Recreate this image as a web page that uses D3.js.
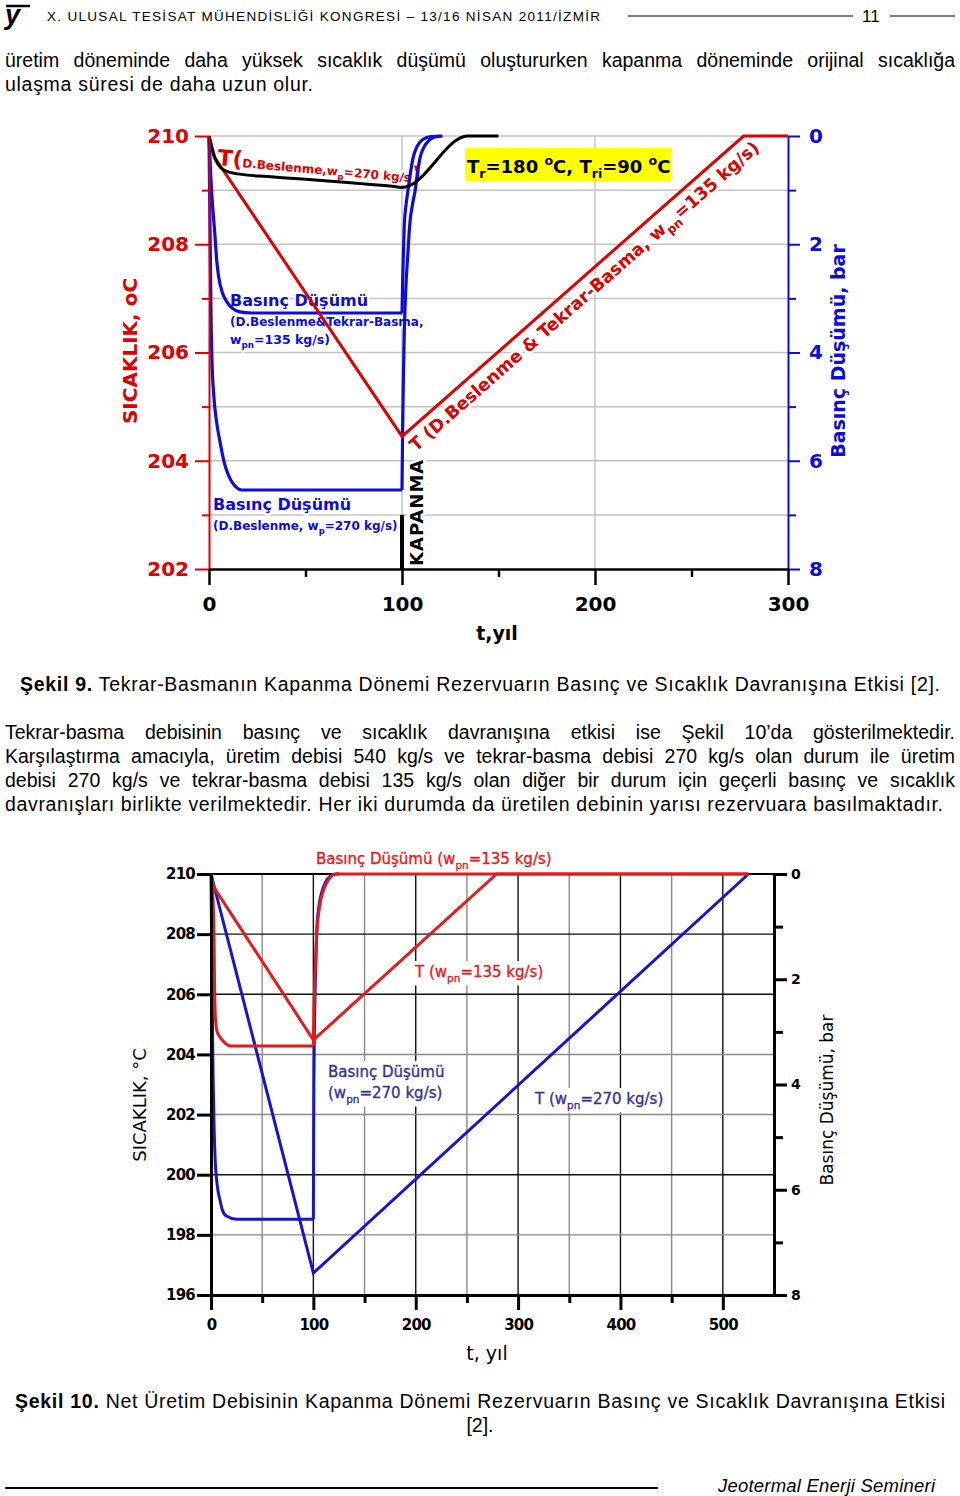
<!DOCTYPE html>
<html><head><meta charset="utf-8">
<script src="https://cdn.jsdelivr.net/npm/d3@7"></script>
<style>body{margin:0;background:#fff}svg{display:block}</style>
</head><body>
<svg id="c" width="960" height="1496"></svg>
<script>
// ---------------- DATA ----------------
// Figure 9 (Şekil 9)
const f9XTicks = [0, 100, 200, 300];
const f9XMinor = [50, 150, 250];
const f9TempTicks = [202, 204, 206, 208, 210];
const f9TempMinor = [203, 205, 207, 209];
const f9PresTicks = [0, 2, 4, 6, 8];
const f9PresMinor = [1, 3, 5, 7];
// T (D.Beslenme, wp=270 kg/s)  [year, °C]
const f9TempProd = [[0,210],[1,209.85],[2,209.7],[4,209.52],[6,209.42],[9,209.35],[15,209.3],[30,209.25],[50,209.2],[75,209.13],[95,209.07],[100,209.05],[102,209.06],[134,210],[150,210]];
// T (D.Beslenme & Tekrar-Basma, wpn=135 kg/s)
const f9TempInj = [[0,210],[3,209.6],[100,204.45],[277,210],[300,210]];
// Basınç Düşümü (wpn=135) production + recovery [year, bar]
const f9PresInj = [[0,0],[0.5,0.4],[1,0.8],[2,1.35],[3,1.8],[4,2.3],[5,2.6],[7,2.9],[9,3.05],[12,3.18],[16,3.25],[22,3.27],[100,3.27]];
const f9PresInjRec = [[100,3.27],[100.4,2.6],[100.8,2.1],[101.2,1.64],[102,1.3],[103,1.03],[104.3,0.7],[105.7,0.41],[108,0.18],[111,0.06],[115,0.01],[120,0]];
// Basınç Düşümü (wp=270)
const f9PresProd = [[0,0],[0.3,1],[0.7,2.2],[1,3.2],[1.5,4.1],[2.5,4.8],[4,5.3],[5.7,5.65],[8,6.05],[10,6.26],[13,6.45],[17,6.54],[100,6.54]];
const f9PresProdRec = [[100,6.54],[100.3,5.5],[100.7,4.5],[101.2,3.6],[102,2.8],[103,2.2],[104,1.64],[105.5,1.25],[106.7,1.03],[108,0.7],[109.3,0.41],[111.5,0.2],[114,0.08],[117,0.02],[121,0]];

// Figure 10 (Şekil 10)
const f10XTicks = [0, 100, 200, 300, 400, 500];
const f10XMinor = [50, 150, 250, 350, 450];
const f10TempTicks = [196, 198, 200, 202, 204, 206, 208, 210];
const f10PresTicks = [0, 2, 4, 6, 8];
const f10PresMinor = [1, 3, 5, 7];
const f10GridX = [50,100,150,200,250,300,350,400,450,500];
const f10GridT = [198,200,202,204,206,208];
// T (wpn=135)
const f10TempInj = [[0,210],[3,209.55],[100,204.48],[279,210],[525,210]];
// T (wpn=270)
const f10TempProd = [[0,210],[100,196.73],[525,210]];
// Basınç Düşümü (wpn=135)
const f10PresInj = [[0,0],[2,0.5],[3,1.25],[3.5,2.2],[4.5,2.8],[6,3.0],[8.8,3.1],[13,3.2],[19,3.27],[100,3.27]];
const f10PresInjRec = [[100,3.27],[100.5,2.6],[101.5,2.0],[103,1.25],[106,0.63],[110,0.3],[113,0.17],[117,0.05],[121,0],[525,0]];
// Basınç Düşümü (wpn=270)
const f10PresProd = [[0,0],[1,2],[2,3.8],[3,4.8],[4,5.4],[6,5.9],[8.8,6.2],[11,6.38],[15,6.5],[25,6.56],[100,6.56]];
const f10PresProdRec = [[100,6.56],[100.2,5.5],[100.5,4.0],[101,3.0],[102,2.0],[103.5,1.0],[105.5,0.6],[108,0.36],[112,0.15],[116,0.05],[123,0],[125,0]];

// ---------------- SETUP ----------------
const svg = d3.select('#c');
svg.append('rect').attr('width',960).attr('height',1496).attr('fill','#fff');
const BODY = '"Liberation Sans", Arial, sans-serif';
const CH = '"DejaVu Sans", sans-serif';
const BFS = 19.5;

function rich(text, parts, fs) {
  let shift = 0;
  parts.forEach(p => {
    const base = p.fs || fs;
    let target = 0, size = base;
    if (p.sub) { target = base * 0.3; size = base * 0.7; }
    if (p.sup) { target = -base * 0.42; size = base * 0.7; }
    text.append('tspan').text(p.t).attr('font-size', size).attr('dy', target - shift);
    shift = target;
  });
  return text;
}
function halo(t) { return t.attr('stroke','#fff').attr('stroke-width',5).attr('paint-order','stroke').attr('stroke-linejoin','round'); }
function axisStyle(g, color, sw, fs, fw, ff) {
  g.attr('font-family', ff).attr('font-size', fs);
  g.select('.domain').attr('stroke', color).attr('stroke-width', sw);
  g.selectAll('.tick line').attr('stroke', color).attr('stroke-width', sw);
  g.selectAll('.tick text').attr('fill', color).attr('font-size', fs).attr('font-weight', fw).attr('font-family', ff);
}
function justify(str, x0, x1, y) {
  const words = str.split(' ');
  const t = svg.append('text').attr('y', y).attr('font-family', BODY).attr('font-size', BFS).attr('fill','#000');
  const spans = words.map(w => t.append('tspan').text(w));
  const widths = spans.map(s => s.node().getComputedTextLength());
  const gap = (x1 - x0 - d3.sum(widths)) / (words.length - 1);
  let x = x0;
  spans.forEach((s, i) => { s.attr('x', x); x += widths[i] + gap; });
}
function fitLine(str, x0, w, y, opts) {
  const t = svg.append('text').attr('x', x0).attr('y', y).attr('font-family', BODY)
    .attr('font-size', (opts && opts.fs) || BFS).attr('fill','#000');
  if (opts && opts.bold) {
    t.append('tspan').attr('font-weight','bold').text(opts.bold);
    t.append('tspan').text(str);
  } else t.text(str);
  if (opts && opts.italic) t.attr('font-style','italic');
  if (w) t.attr('textLength', w).attr('lengthAdjust','spacing');
  return t;
}

// ---------------- PAGE TEXT ----------------
svg.append('line').attr('x1',6).attr('x2',30).attr('y1',6).attr('y2',6).attr('stroke','#000').attr('stroke-width',2.5);
svg.append('text').attr('x',5).attr('y',24).attr('font-family',BODY).attr('font-size',27).attr('font-weight','bold').attr('font-style','italic').text('y');
fitLine('X. ULUSAL TESİSAT MÜHENDİSLİĞİ KONGRESİ – 13/16 NİSAN 2011/İZMİR', 47, 553, 21, {fs:13.5});
svg.append('line').attr('x1',628).attr('x2',853).attr('y1',16).attr('y2',16).attr('stroke','#000').attr('stroke-width',1.2);
svg.append('text').attr('x',862).attr('y',22).attr('font-family',BODY).attr('font-size',17).text('11');
svg.append('line').attr('x1',890).attr('x2',955).attr('y1',16).attr('y2',16).attr('stroke','#000').attr('stroke-width',1.2);

justify('üretim döneminde daha yüksek sıcaklık düşümü oluştururken kapanma döneminde orijinal sıcaklığa', 5, 955, 67);
fitLine('ulaşma süresi de daha uzun olur.', 5, 308, 91);

fitLine(' Tekrar-Basmanın Kapanma Dönemi Rezervuarın Basınç ve Sıcaklık Davranışına Etkisi [2].', 20, 920, 691, {bold:'Şekil 9.'});

justify('Tekrar-basma debisinin basınç ve sıcaklık davranışına etkisi ise Şekil 10’da gösterilmektedir.', 5, 955, 739);
justify('Karşılaştırma amacıyla, üretim debisi 540 kg/s ve tekrar-basma debisi 270 kg/s olan durum ile üretim', 5, 955, 763);
justify('debisi 270 kg/s ve tekrar-basma debisi 135 kg/s olan diğer bir durum için geçerli basınç ve sıcaklık', 5, 955, 787);
fitLine('davranışları birlikte verilmektedir. Her iki durumda da üretilen debinin yarısı rezervuara basılmaktadır.', 5, 938, 811);

fitLine(' Net Üretim Debisinin Kapanma Dönemi Rezervuarın Basınç ve Sıcaklık Davranışına Etkisi', 15, 930, 1408, {bold:'Şekil 10.'});
svg.append('text').attr('x',480).attr('y',1432).attr('text-anchor','middle').attr('font-family',BODY).attr('font-size',BFS).text('[2].');

svg.append('line').attr('x1',5).attr('x2',658).attr('y1',1488).attr('y2',1488).attr('stroke','#000').attr('stroke-width',2);
fitLine('Jeotermal Enerji Semineri', 718, 217, 1492, {italic:true, fs:18.5});

// ---------------- FIGURE 9 ----------------
const R9 = '#e00000', B9 = '#0c0cdc';
const x1 = d3.scaleLinear([0,300],[209,788]);
const yT1 = d3.scaleLinear([202,210],[569,136]);
const yP1 = d3.scaleLinear([0,8],[136,569]);
const g1 = svg.append('g');

// grid
g1.selectAll('line.gh').data([203,204,205,206,207,208,209,210]).join('line')
  .attr('x1',x1(0)).attr('x2',x1(300)).attr('y1',d=>yT1(d)).attr('y2',d=>yT1(d))
  .attr('stroke','#c4c4c4').attr('stroke-width',1.5);
g1.selectAll('line.gv').data([100,200]).join('line')
  .attr('x1',d=>x1(d)).attr('x2',d=>x1(d)).attr('y1',yT1(210)).attr('y2',yT1(202))
  .attr('stroke','#c4c4c4').attr('stroke-width',1.5);

// KAPANMA marker
g1.append('line').attr('x1',x1(100)).attr('x2',x1(100)).attr('y1',yT1(203)).attr('y2',yT1(202))
  .attr('stroke','#000').attr('stroke-width',4);

// annotations fig 9 (drawn under the curves, with white halo over grid)
const tA = halo(g1.append('text').attr('transform','translate(217,165) rotate(5)').attr('fill',R9).attr('font-family',CH).attr('font-weight','bold'));
rich(tA, [{t:'T(',fs:22},{t:'D.Beslenme,w',fs:12},{t:'p',sub:true,fs:12},{t:'=270 kg/s',fs:12},{t:')',fs:22}], 12);

g1.append('rect').attr('x',465).attr('y',148).attr('width',206).attr('height',33).attr('fill','#ffff00');
const tB = g1.append('text').attr('x',467).attr('y',173).attr('fill','#000').attr('font-family',CH).attr('font-weight','bold');
rich(tB, [{t:'T'},{t:'r',sub:true},{t:'=180 '},{t:'o',sup:true},{t:'C, T'},{t:'ri',sub:true},{t:'=90 '},{t:'o',sup:true},{t:'C'}], 18);

const tC = halo(g1.append('text').attr('transform','translate(416,452) rotate(-41.3)').attr('fill',R9).attr('font-family',CH).attr('font-weight','bold'));
rich(tC, [{t:'T (D.Beslenme & Tekrar-Basma, w'},{t:'pn',sub:true},{t:'=135 kg/s)'}], 17.5);

halo(g1.append('text').attr('x',230).attr('y',306).attr('fill',B9).attr('font-family',CH).attr('font-weight','bold').attr('font-size',16).text('Basınç Düşümü'));
halo(g1.append('text').attr('x',230).attr('y',326).attr('fill',B9).attr('font-family',CH).attr('font-weight','bold').attr('font-size',12).text('(D.Beslenme&Tekrar-Basma,'));
rich(halo(g1.append('text').attr('x',230).attr('y',344).attr('fill',B9).attr('font-family',CH).attr('font-weight','bold')),
  [{t:'w'},{t:'pn',sub:true},{t:'=135 kg/s)'}], 12.5);
halo(g1.append('text').attr('x',213).attr('y',510).attr('fill',B9).attr('font-family',CH).attr('font-weight','bold').attr('font-size',16).text('Basınç Düşümü'));
rich(halo(g1.append('text').attr('x',213).attr('y',530).attr('fill',B9).attr('font-family',CH).attr('font-weight','bold')),
  [{t:'(D.Beslenme, w'},{t:'p',sub:true},{t:'=270 kg/s)'}], 12);
halo(g1.append('text').attr('transform','translate(423,566) rotate(-90)').attr('font-family',CH).attr('font-weight','bold').attr('font-size',18).attr('letter-spacing',1).attr('fill','#000').text('KAPANMA'));

// curves
const l1T = d3.line().x(d=>x1(d[0])).y(d=>yT1(d[1]));
const l1Ts = d3.line().x(d=>x1(d[0])).y(d=>yT1(d[1])).curve(d3.curveMonotoneX);
const l1P = d3.line().x(d=>x1(d[0])).y(d=>yP1(d[1])).curve(d3.curveMonotoneX);
[f9PresProd, f9PresProdRec, f9PresInj, f9PresInjRec].forEach(d =>
  g1.append('path').attr('d', l1P(d)).attr('fill','none').attr('stroke',B9).attr('stroke-width',3.2).attr('stroke-linejoin','round'));
g1.append('path').attr('d', l1T(f9TempInj)).attr('fill','none').attr('stroke',R9).attr('stroke-width',3);
g1.append('path').attr('d', l1Ts(f9TempProd)).attr('fill','none').attr('stroke','#000').attr('stroke-width',3);

// axes
const ax1L = g1.append('g').attr('transform',`translate(${x1(0)},0)`)
  .call(d3.axisLeft(yT1).tickValues(f9TempTicks).tickSize(14).tickPadding(6).tickSizeOuter(0));
axisStyle(ax1L, R9, 2, 20, 'bold', CH);
const ax1Lm = g1.append('g').attr('transform',`translate(${x1(0)},0)`)
  .call(d3.axisLeft(yT1).tickValues(f9TempMinor).tickSize(7).tickFormat(()=>''));
ax1Lm.select('.domain').remove(); ax1Lm.selectAll('line').attr('stroke',R9).attr('stroke-width',2);

const ax1R = g1.append('g').attr('transform',`translate(${x1(300)},0)`)
  .call(d3.axisRight(yP1).tickValues(f9PresTicks).tickSize(12).tickPadding(9).tickSizeOuter(0));
axisStyle(ax1R, B9, 2, 20, 'bold', CH);
const ax1Rm = g1.append('g').attr('transform',`translate(${x1(300)},0)`)
  .call(d3.axisRight(yP1).tickValues(f9PresMinor).tickSize(8).tickFormat(()=>''));
ax1Rm.select('.domain').remove(); ax1Rm.selectAll('line').attr('stroke',B9).attr('stroke-width',2);

const ax1B = g1.append('g').attr('transform',`translate(0,${yT1(202)})`)
  .call(d3.axisBottom(x1).tickValues(f9XTicks).tickSize(16).tickPadding(12).tickSizeOuter(0));
axisStyle(ax1B, '#000', 2.5, 20, 'bold', CH);
const ax1Bm = g1.append('g').attr('transform',`translate(0,${yT1(202)})`)
  .call(d3.axisBottom(x1).tickValues(f9XMinor).tickSize(8).tickFormat(()=>''));
ax1Bm.select('.domain').remove(); ax1Bm.selectAll('line').attr('stroke','#000').attr('stroke-width',2.5);

g1.append('text').attr('transform','translate(137,351) rotate(-90)').attr('text-anchor','middle').attr('font-family',CH).attr('font-weight','bold').attr('font-size',20).attr('fill',R9).text('SICAKLIK, oC');
g1.append('text').attr('transform','translate(845,351) rotate(-90)').attr('text-anchor','middle').attr('font-family',CH).attr('font-weight','bold').attr('font-size',19).attr('fill',B9).text('Basınç Düşümü, bar');
g1.append('text').attr('x',497).attr('y',640).attr('text-anchor','middle').attr('font-family',CH).attr('font-weight','bold').attr('font-size',19).attr('fill','#000').text('t,yıl');

// ---------------- FIGURE 10 ----------------
const R10 = '#e61a1a', B10 = '#1616cf', N10 = '#333399';
const x2 = d3.scaleLinear([0,550],[211,774]);
const yT2 = d3.scaleLinear([196,210],[1295,874]);
const yP2 = d3.scaleLinear([0,8],[874,1295]);
const g2 = svg.append('g');

g2.selectAll('line.gv').data(f10GridX).join('line')
  .attr('x1',d=>x2(d)).attr('x2',d=>x2(d)).attr('y1',yT2(210)).attr('y2',yT2(196))
  .attr('stroke',d=> d%100===0 ? '#111' : '#8a8a8a').attr('stroke-width',1.4);
g2.selectAll('line.gh').data(f10GridT).join('line')
  .attr('x1',x2(0)).attr('x2',x2(550)).attr('y1',d=>yT2(d)).attr('y2',d=>yT2(d))
  .attr('stroke',d=> (d===200||d===206||d===208) ? '#111' : '#8a8a8a').attr('stroke-width',1.4);
g2.append('line').attr('x1',x2(0)).attr('x2',x2(550)).attr('y1',yT2(210)).attr('y2',yT2(210)).attr('stroke','#000').attr('stroke-width',2);

// labels with white boxes (over grid, under curves)
const lab = (x,y,c,parts,fs) => {
  const t = rich(g2.append('text').attr('x',x).attr('y',y).attr('fill',c).attr('font-family',CH).attr('stroke',c).attr('stroke-width',0.35), parts, fs);
  const b = t.node().getBBox();
  g2.insert('rect', () => t.node()).attr('x',b.x-3).attr('y',b.y-2).attr('width',b.width+6).attr('height',b.height+4).attr('fill','#fff');
  return t;
};
lab(316, 864, R10, [{t:'Basınç Düşümü (w'},{t:'pn',sub:true},{t:'=135 kg/s)'}], 15);
lab(415, 977, R10, [{t:'T (w'},{t:'pn',sub:true},{t:'=135 kg/s)'}], 15);
lab(328, 1077, N10, [{t:'Basınç Düşümü'}], 15);
lab(328, 1098, N10, [{t:'(w'},{t:'pn',sub:true},{t:'=270 kg/s)'}], 15);
lab(535, 1104, N10, [{t:'T (w'},{t:'pn',sub:true},{t:'=270 kg/s)'}], 15);

const l2T = d3.line().x(d=>x2(d[0])).y(d=>yT2(d[1]));
const l2P = d3.line().x(d=>x2(d[0])).y(d=>yP2(d[1])).curve(d3.curveMonotoneX);
[f10PresProd, f10PresProdRec].forEach(d =>
  g2.append('path').attr('d', l2P(d)).attr('fill','none').attr('stroke',B10).attr('stroke-width',3).attr('stroke-linejoin','round'));
g2.append('path').attr('d', l2T(f10TempProd)).attr('fill','none').attr('stroke',B10).attr('stroke-width',3);
[f10PresInj, f10PresInjRec].forEach(d =>
  g2.append('path').attr('d', l2P(d)).attr('fill','none').attr('stroke',R10).attr('stroke-width',3).attr('stroke-linejoin','round'));
g2.append('path').attr('d', l2T(f10TempInj)).attr('fill','none').attr('stroke',R10).attr('stroke-width',3);

const ax2L = g2.append('g').attr('transform',`translate(${x2(0)},0)`)
  .call(d3.axisLeft(yT2).tickValues(f10TempTicks).tickSize(14).tickPadding(2).tickSizeOuter(0));
axisStyle(ax2L, '#000', 3, 15, 'bold', CH);
ax2L.selectAll('.tick text').attr('letter-spacing',-0.8);
const ax2R = g2.append('g').attr('transform',`translate(${x2(550)},0)`)
  .call(d3.axisRight(yP2).tickValues(f10PresTicks).tickSize(13).tickPadding(4).tickSizeOuter(0));
axisStyle(ax2R, '#000', 3, 14, 'bold', CH);
const ax2Rm = g2.append('g').attr('transform',`translate(${x2(550)},0)`)
  .call(d3.axisRight(yP2).tickValues(f10PresMinor).tickSize(9).tickFormat(()=>''));
ax2Rm.select('.domain').remove(); ax2Rm.selectAll('line').attr('stroke','#000').attr('stroke-width',3);
const ax2B = g2.append('g').attr('transform',`translate(0,${yT2(196)})`)
  .call(d3.axisBottom(x2).tickValues(f10XTicks).tickSize(15).tickPadding(9).tickSizeOuter(0));
axisStyle(ax2B, '#000', 3, 15, 'bold', CH);
ax2B.selectAll('.tick text').attr('letter-spacing',-0.8);
const ax2Bm = g2.append('g').attr('transform',`translate(0,${yT2(196)})`)
  .call(d3.axisBottom(x2).tickValues(f10XMinor).tickSize(8).tickFormat(()=>''));
ax2Bm.select('.domain').remove(); ax2Bm.selectAll('line').attr('stroke','#000').attr('stroke-width',3);

g2.append('text').attr('transform','translate(146,1105) rotate(-90)').attr('text-anchor','middle').attr('font-family',CH).attr('font-size',18).attr('fill','#000').text('SICAKLIK, °C');
g2.append('text').attr('transform','translate(833,1100) rotate(-90)').attr('text-anchor','middle').attr('font-family',CH).attr('font-size',17).attr('fill','#000').text('Basınç Düşümü, bar');
g2.append('text').attr('x',487).attr('y',1360).attr('text-anchor','middle').attr('font-family',CH).attr('font-size',19).attr('fill','#000').text('t, yıl');
</script>
</body></html>
